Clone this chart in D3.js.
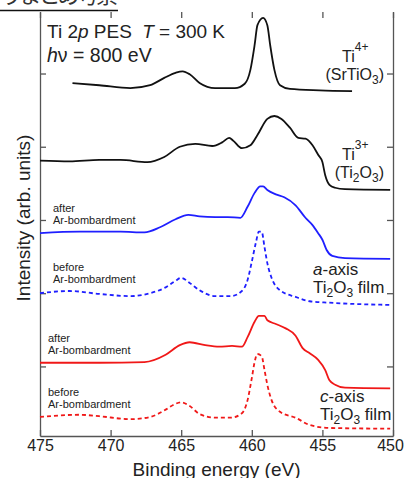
<!DOCTYPE html>
<html>
<head>
<meta charset="utf-8">
<script src="https://cdn.jsdelivr.net/npm/d3@7"></script>
<style>
  body { margin: 0; background: #fff; }
  svg text { font-family: "Liberation Sans", Arial, sans-serif; fill: #222; }
</style>
</head>
<body>
<svg id="viz" width="404" height="478"></svg>
<script>
const svg = d3.select("#viz");
const width = +svg.attr("width");
const height = +svg.attr("height");
const margin = { top: 12, right: 11, bottom: 42, left: 40 };

// binding energy (eV) vs intensity (arb. units, offset per spectrum)
const srtio3 = [[472.7,4.87],[470.8,4.84],[468.6,4.80],[467.2,4.84],[466.2,4.94],[465.4,5.01],[464.9,5.03],[464.4,4.99],[463.7,4.87],[462.6,4.80],[461.2,4.80],[460.5,4.86],[460.1,5.05],[459.8,5.39],[459.6,5.66],[459.2,5.76],[458.9,5.66],[458.7,5.39],[458.4,5.05],[458.0,4.84],[457.3,4.79],[455.2,4.77],[452.9,4.76]];
const ti2o3 = [[475.0,3.81],[472.9,3.80],[470.8,3.82],[469.3,3.82],[467.4,3.79],[466.2,3.86],[465.1,4.00],[464.0,4.04],[462.8,4.01],[462.1,4.06],[461.6,4.12],[461.3,4.08],[460.7,3.98],[460.1,4.02],[459.6,4.16],[458.9,4.38],[458.4,4.42],[457.9,4.38],[457.3,4.26],[456.7,4.12],[456.2,4.11],[455.7,4.02],[455.3,3.89],[455.0,3.79],[454.8,3.61],[454.5,3.48],[454.1,3.44],[453.4,3.42],[450.2,3.41]];
const aAfter = [[475.0,2.82],[472.2,2.84],[469.3,2.84],[467.6,2.83],[466.5,2.90],[465.4,3.01],[464.5,3.07],[463.7,3.05],[462.6,3.04],[461.7,3.04],[460.8,3.03],[460.3,3.18],[459.8,3.37],[459.4,3.46],[459.2,3.46],[458.9,3.41],[458.3,3.35],[457.7,3.31],[456.9,3.20],[456.2,3.03],[455.7,2.93],[455.3,2.82],[455.0,2.73],[454.7,2.59],[454.3,2.51],[453.4,2.48],[450.2,2.47]];
const aBefore = [[475.0,2.00],[472.9,2.03],[470.8,1.99],[468.6,1.96],[467.2,2.00],[466.1,2.08],[465.4,2.17],[465.0,2.21],[464.4,2.14],[463.7,2.04],[462.6,1.96],[461.5,1.96],[460.7,2.03],[460.3,2.18],[460.0,2.43],[459.7,2.70],[459.5,2.84],[459.3,2.84],[459.1,2.63],[458.9,2.41],[458.6,2.21],[458.0,2.04],[456.9,1.95],[455.9,1.89],[454.5,1.87],[450.2,1.84]];
const cAfter = [[475.0,1.05],[470.8,1.05],[467.6,1.06],[466.1,1.16],[465.1,1.29],[464.4,1.33],[463.3,1.29],[462.3,1.27],[461.4,1.28],[460.7,1.27],[460.3,1.40],[459.8,1.61],[459.5,1.69],[459.1,1.69],[458.9,1.63],[458.3,1.58],[457.6,1.52],[456.9,1.42],[456.4,1.25],[455.9,1.18],[455.3,1.09],[454.8,0.95],[454.5,0.81],[454.1,0.75],[453.4,0.71],[450.2,0.70]];
const cBefore = [[475.0,0.31],[472.2,0.34],[470.8,0.32],[468.6,0.28],[467.2,0.31],[466.1,0.41],[465.4,0.49],[465.0,0.51],[464.4,0.46],[463.7,0.35],[462.6,0.30],[461.5,0.30],[460.7,0.36],[460.3,0.54],[460.0,0.84],[459.8,1.06],[459.6,1.17],[459.3,1.14],[459.1,0.95],[458.9,0.75],[458.6,0.54],[458.0,0.38],[456.9,0.30],[455.9,0.20],[454.5,0.16],[450.2,0.15]];

const spectra = [
  { data: srtio3, color: "#111", dash: null },
  { data: ti2o3, color: "#111", dash: null },
  { data: aAfter, color: "#1f1fff", dash: null },
  { data: aBefore, color: "#1f1fff", dash: "4,3" },
  { data: cAfter, color: "#f01818", dash: null },
  { data: cBefore, color: "#f01818", dash: "4,3" }
];

const xTicks = [475, 470, 465, 460, 455, 450];
const yTicks = [1, 2, 3, 4, 5];

const x = d3.scaleLinear().domain([475, 450]).range([margin.left, width - margin.right]);
const y = d3.scaleLinear().domain([0.05, 5.84]).range([height - margin.bottom, margin.top]);

// japanese heading cut off at the top
svg.append("text")
  .attr("x", 0).attr("y", 3)
  .attr("font-size", "22px")
  .attr("textLength", 118)
  .style("font-family", "'Noto Sans CJK JP'")
  .style("fill", "#333")
  .text("りまとめ考察");
svg.append("line")
  .attr("x1", 0).attr("x2", 118).attr("y1", 10.5).attr("y2", 10.5)
  .attr("stroke", "#111").attr("stroke-width", 1.5);

// axes, ticks inside
const axisColor = "#555";
const gB = svg.append("g").attr("transform", `translate(0,${y.range()[0]})`)
  .call(d3.axisBottom(x).tickValues(xTicks).tickSize(-6).tickSizeOuter(0).tickPadding(4).tickFormat(d3.format("d")));
const gT = svg.append("g").attr("transform", `translate(0,${y.range()[1]})`)
  .call(d3.axisTop(x).tickValues(xTicks).tickSize(-6).tickSizeOuter(0).tickFormat(""));
gT.select(".domain").remove();
const gL = svg.append("g").attr("transform", `translate(${x.range()[0]},0)`)
  .call(d3.axisLeft(y).tickValues(yTicks).tickSize(-6).tickSizeOuter(0).tickFormat(""));
const gR = svg.append("g").attr("transform", `translate(${x.range()[1]},0)`)
  .call(d3.axisRight(y).tickValues(yTicks).tickSize(-6).tickSizeOuter(0).tickFormat(""));
[gB, gT, gL, gR].forEach(g => {
  g.selectAll("path, line").attr("stroke", axisColor).attr("stroke-width", 1.3);
});
gB.selectAll("text").attr("font-size", "16px").attr("fill", "#222")
  .style("font-family", "'Liberation Sans', Arial, sans-serif");
// last label sits a little inside, like the original
gB.selectAll(".tick").filter(d => d === 450).select("text").attr("x", -3);

// spectra
const line = d3.line().x(d => x(d[0])).y(d => y(d[1])).curve(d3.curveMonotoneX);
svg.selectAll(".spec")
  .data(spectra)
  .join("path")
  .attr("class", "spec")
  .attr("fill", "none")
  .attr("stroke", d => d.color)
  .attr("stroke-width", 1.8)
  .attr("stroke-dasharray", d => d.dash)
  .attr("d", d => line(d.data));

// axis titles
svg.append("text")
  .attr("x", (x.range()[0] + x.range()[1]) / 2)
  .attr("y", 476)
  .attr("text-anchor", "middle")
  .attr("font-size", "19px")
  .text("Binding energy (eV)");
svg.append("text")
  .attr("transform", `translate(30,218) rotate(-90)`)
  .attr("text-anchor", "middle")
  .attr("font-size", "19px")
  .text("Intensity (arb. units)");

// header
const h1 = svg.append("text").attr("x", 47).attr("y", 38).attr("font-size", "19px");
h1.append("tspan").text("Ti 2");
h1.append("tspan").attr("font-style", "italic").text("p");
h1.append("tspan").text(" PES ");
h1.append("tspan").attr("dx", 5).attr("font-style", "italic").text("T");
h1.append("tspan").text(" = 300 K");
const h2 = svg.append("text").attr("x", 47).attr("y", 62).attr("font-size", "19.5px");
h2.append("tspan").attr("font-style", "italic").text("h");
h2.append("tspan").text("\u03bd = 800 eV");

// reference labels
function ionLabel(xp, yp, charge, parts) {
  const t = svg.append("text").attr("x", xp).attr("y", yp).attr("font-size", "16px");
  t.append("tspan").text("Ti");
  t.append("tspan").attr("dy", -11).attr("font-size", "12px").text(charge);
  const t2 = svg.append("text").attr("x", 384).attr("y", yp + 18).attr("font-size", "16px").attr("text-anchor", "end");
  parts.forEach(([s, dy, fs]) => {
    const sp = t2.append("tspan").attr("dy", dy).text(s);
    if (fs) sp.attr("font-size", fs);
  });
}
ionLabel(342, 62, "4+", [["(SrTiO", 0], ["3", 4, "12px"], [")", -4]]);
ionLabel(342, 160, "3+", [["(Ti", 0], ["2", 4, "12px"], ["O", -4], ["3", 4, "12px"], [")", -4]]);

function filmLabel(xp, yp, axisLetter) {
  const t = svg.append("text").attr("x", xp).attr("y", yp).attr("font-size", "17px");
  t.append("tspan").attr("font-style", "italic").text(axisLetter);
  t.append("tspan").text("-axis");
  const t2 = svg.append("text").attr("x", xp).attr("y", yp + 18).attr("font-size", "17px");
  t2.append("tspan").text("Ti");
  t2.append("tspan").attr("dy", 4).attr("font-size", "12px").text("2");
  t2.append("tspan").attr("dy", -4).text("O");
  t2.append("tspan").attr("dy", 4).attr("font-size", "12px").text("3");
  t2.append("tspan").attr("dy", -4).text(" film");
}
filmLabel(313, 275, "a");
filmLabel(320, 402, "c");

function condLabel(xp, yp, word) {
  svg.append("text").attr("x", xp).attr("y", yp).attr("font-size", "11px").text(word);
  svg.append("text").attr("x", xp).attr("y", yp + 12).attr("font-size", "11px").text("Ar-bombardment");
}
condLabel(53, 212, "after");
condLabel(53, 271, "before");
condLabel(48, 342, "after");
condLabel(48, 396, "before");
</script>
</body>
</html>
